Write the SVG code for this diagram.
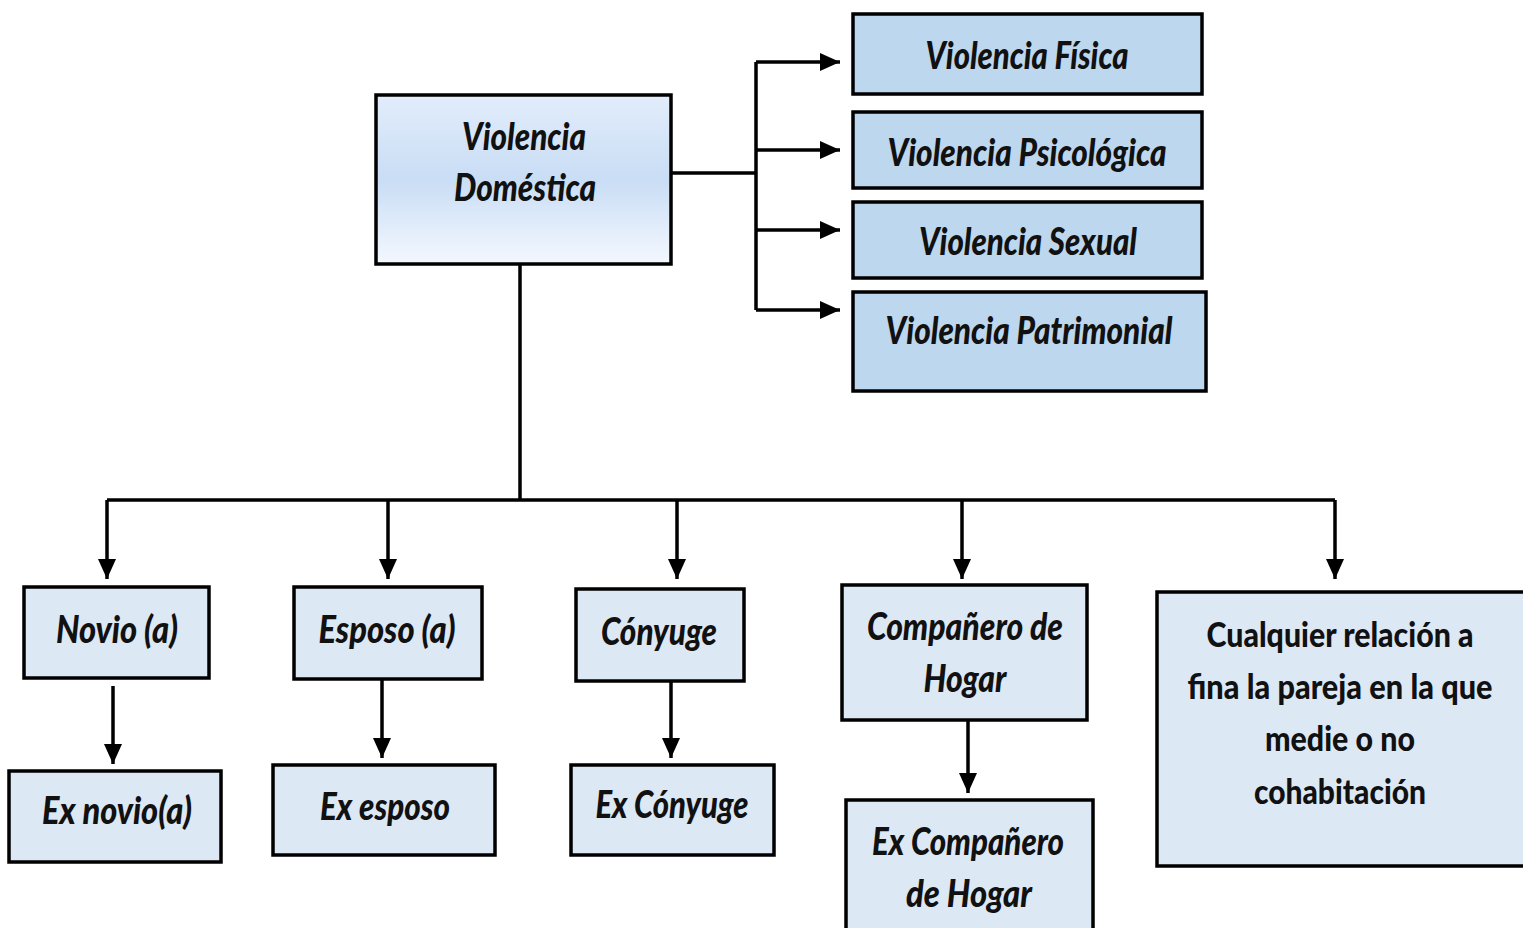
<svg xmlns="http://www.w3.org/2000/svg" width="1523" height="928" viewBox="0 0 1523 928">
<defs>
<linearGradient id="g" x1="0" y1="0" x2="0" y2="1">
<stop offset="0" stop-color="#e2edfb"/>
<stop offset="0.5" stop-color="#c9ddf5"/>
<stop offset="1" stop-color="#f4f8fe"/>
</linearGradient>
<marker id="ah" markerUnits="userSpaceOnUse" markerWidth="22" markerHeight="20" refX="20" refY="9" orient="auto">
<path d="M0,0 L20,9 L0,18 z" fill="#000"/>
</marker>
<style>
.bx{stroke:#000;stroke-width:3.5}
.top{fill:#bdd7ee}
.low{fill:#dde8f5}
.t{font-family:Lato,"Open Sans","Liberation Sans",sans-serif;font-weight:900;font-style:italic;font-size:37px;fill:#111;text-anchor:middle}
.n{font-family:Lato,"Open Sans","Liberation Sans",sans-serif;font-weight:900;font-size:35px;fill:#111;text-anchor:middle}
.c{fill:none;stroke:#000;stroke-width:3.5}
.a{fill:none;stroke:#000;stroke-width:3.5;marker-end:url(#ah)}
</style>
</defs>
<rect width="1523" height="928" fill="#fff"/>
<g id="connectors">
<path class="c" d="M671,173 H756 M756,62 V310 M520,264 V500 M107,500 H1335"/>
<path class="a" d="M756,62 H840"/>
<path class="a" d="M756,150 H840"/>
<path class="a" d="M756,230 H840"/>
<path class="a" d="M756,310 H840"/>
<path class="a" d="M107,500 V579"/>
<path class="a" d="M388,500 V579"/>
<path class="a" d="M677,500 V579"/>
<path class="a" d="M962,500 V579"/>
<path class="a" d="M1335,500 V579"/>
<path class="a" d="M113,686 V764"/>
<path class="a" d="M382,679 V758"/>
<path class="a" d="M671,681 V758"/>
<path class="a" d="M968,714 V793"/>
</g>
<g id="n-domestica">
<rect class="bx" x="376" y="95" width="295" height="169" fill="url(#g)"/>
<text class="t" x="524" y="150" textLength="124" lengthAdjust="spacingAndGlyphs">Violencia</text>
<text class="t" x="525" y="201" textLength="142" lengthAdjust="spacingAndGlyphs">Doméstica</text>
</g>
<g id="n-fisica">
<rect class="bx top" x="853" y="14" width="349" height="80"/>
<text class="t" x="1027" y="69" textLength="203" lengthAdjust="spacingAndGlyphs">Violencia Física</text>
</g>
<g id="n-psicologica">
<rect class="bx top" x="853" y="112" width="349" height="76"/>
<text class="t" x="1027" y="166" textLength="279" lengthAdjust="spacingAndGlyphs">Violencia Psicológica</text>
</g>
<g id="n-sexual">
<rect class="bx top" x="853" y="202" width="349" height="76"/>
<text class="t" x="1028" y="255" textLength="218" lengthAdjust="spacingAndGlyphs">Violencia Sexual</text>
</g>
<g id="n-patrimonial">
<rect class="bx top" x="853" y="292" width="353" height="99"/>
<text class="t" x="1029" y="344" textLength="287" lengthAdjust="spacingAndGlyphs">Violencia Patrimonial</text>
</g>
<g id="n-novio">
<rect class="bx low" x="24" y="587" width="185" height="91"/>
<text class="t" x="117" y="643" textLength="122" lengthAdjust="spacingAndGlyphs">Novio (a)</text>
</g>
<g id="n-esposo">
<rect class="bx low" x="294" y="587" width="188" height="92"/>
<text class="t" x="387" y="643" textLength="137" lengthAdjust="spacingAndGlyphs">Esposo (a)</text>
</g>
<g id="n-conyuge">
<rect class="bx low" x="576" y="589" width="168" height="92"/>
<text class="t" x="659" y="645" textLength="116" lengthAdjust="spacingAndGlyphs">Cónyuge</text>
</g>
<g id="n-companero">
<rect class="bx low" x="842" y="585" width="245" height="135"/>
<text class="t" x="965" y="640" textLength="196" lengthAdjust="spacingAndGlyphs">Compañero de</text>
<text class="t" x="965" y="692" textLength="83" lengthAdjust="spacingAndGlyphs">Hogar</text>
</g>
<g id="n-cualquier">
<rect class="bx low" x="1157" y="592" width="368" height="274"/>
<text class="n" x="1340" y="647" textLength="267" lengthAdjust="spacingAndGlyphs">Cualquier relación a</text>
<text class="n" x="1340" y="699" textLength="305" lengthAdjust="spacingAndGlyphs">fina la pareja en la que</text>
<text class="n" x="1340" y="751" textLength="150" lengthAdjust="spacingAndGlyphs">medie o no</text>
<text class="n" x="1340" y="804" textLength="172" lengthAdjust="spacingAndGlyphs">cohabitación</text>
</g>
<g id="n-exnovio">
<rect class="bx low" x="9" y="771" width="212" height="91"/>
<text class="t" x="117" y="824" textLength="150" lengthAdjust="spacingAndGlyphs">Ex novio(a)</text>
</g>
<g id="n-exesposo">
<rect class="bx low" x="273" y="765" width="222" height="90"/>
<text class="t" x="385" y="820" textLength="130" lengthAdjust="spacingAndGlyphs">Ex esposo</text>
</g>
<g id="n-exconyuge">
<rect class="bx low" x="571" y="765" width="203" height="90"/>
<text class="t" x="672" y="818" textLength="153" lengthAdjust="spacingAndGlyphs">Ex Cónyuge</text>
</g>
<g id="n-excompanero">
<rect class="bx low" x="846" y="800" width="247" height="140"/>
<text class="t" x="968" y="855" textLength="192" lengthAdjust="spacingAndGlyphs">Ex Compañero</text>
<text class="t" x="969" y="907" textLength="126" lengthAdjust="spacingAndGlyphs">de Hogar</text>
</g>
</svg>
